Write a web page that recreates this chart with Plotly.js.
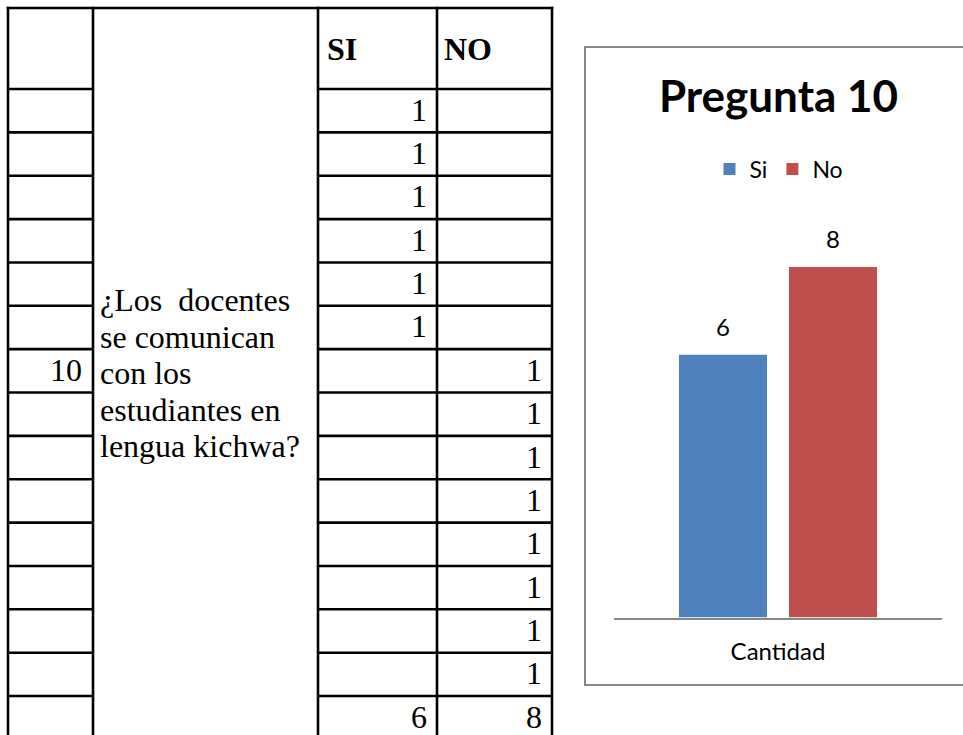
<!DOCTYPE html>
<html>
<head>
<meta charset="utf-8">
<script src="https://cdn.plot.ly/plotly-3.0.1.min.js"></script>
<style>
html,body{margin:0;padding:0;background:#fff;}
#chart{width:963px;height:735px;}
</style>
</head>
<body>
<div id="chart"></div>
<script>
// ---------- data ----------
const questionNumber = '10';
const questionRowIndex = 6;
const questionLines = ['¿Los\u00a0 docentes', 'se comunican', 'con los', 'estudiantes en', 'lengua kichwa?'];
const headerLabels = ['SI', 'NO'];
const siAnswers = [1, 1, 1, 1, 1, 1, null, null, null, null, null, null, null, null];
const noAnswers = [null, null, null, null, null, null, 1, 1, 1, 1, 1, 1, 1, 1];
const siTotal = 6;
const noTotal = 8;

const chartTitle = 'Pregunta 10';
const chartCategories = ['Cantidad'];
const seriesNames = ['Si', 'No'];
const seriesSi = [6];
const seriesNo = [8];

// ---------- geometry (pixels -> paper) ----------
const W = 963, H = 735;
const px = x => x / W;
const py = y => 1 - y / H;

const colX = [8, 93, 318, 437, 552];
const tableTop = 8, headerBottom = 89, rowH = 43.36;
const nRows = siAnswers.length + 1;

const lineStyle = {color: '#000', width: 2.6};
const shapes = [];
colX.forEach(x => shapes.push({type: 'line', xref: 'paper', yref: 'paper',
  x0: px(x), x1: px(x), y0: py(tableTop - 1.3), y1: py(H + 5), line: lineStyle}));
shapes.push({type: 'line', xref: 'paper', yref: 'paper',
  x0: px(colX[0] - 1.3), x1: px(colX[4] + 1.3), y0: py(tableTop), y1: py(tableTop), line: lineStyle});
for (let k = 0; k < nRows; k++) {
  const y = headerBottom + k * rowH;
  shapes.push({type: 'line', xref: 'paper', yref: 'paper',
    x0: px(colX[0]), x1: px(colX[1]), y0: py(y), y1: py(y), line: lineStyle});
  shapes.push({type: 'line', xref: 'paper', yref: 'paper',
    x0: px(colX[2]), x1: px(colX[4]), y0: py(y), y1: py(y), line: lineStyle});
}
shapes.push({type: 'rect', xref: 'paper', yref: 'paper',
  x0: px(585), x1: px(980), y0: py(47), y1: py(685),
  line: {color: '#868686', width: 2}, fillcolor: 'rgba(0,0,0,0)', layer: 'below'});

const serif = 'Liberation Serif, Times New Roman, serif';
const annotations = [];
function cellText(text, x, y, anchor, bold, size) {
  annotations.push({xref: 'paper', yref: 'paper', x: px(x), y: py(y), text: bold ? '<b>' + text + '</b>' : text,
    showarrow: false, xanchor: anchor, yanchor: 'middle',
    font: {family: serif, size: size || 32, color: '#000'}});
}
cellText(headerLabels[0], colX[2] + 7, (tableTop + headerBottom) / 2, 'left', true, 32);
cellText(headerLabels[1], colX[3] + 5, (tableTop + headerBottom) / 2, 'left', true, 32);
const rowMid = i => headerBottom + (i + 0.5) * rowH - 1;
siAnswers.forEach((v, i) => { if (v !== null) cellText(String(v), colX[3] - 8, rowMid(i), 'right'); });
noAnswers.forEach((v, i) => { if (v !== null) cellText(String(v), colX[4] - 8, rowMid(i), 'right'); });
cellText(String(siTotal), colX[3] - 8, rowMid(siAnswers.length), 'right');
cellText(String(noTotal), colX[4] - 8, rowMid(siAnswers.length), 'right');
cellText(questionNumber, colX[1] - 9, rowMid(questionRowIndex), 'right');
const qBase0 = 311, qStep = 36.5;
questionLines.forEach((t, i) => cellText(t, colX[1] + 5, qBase0 + i * qStep - 11, 'left'));

// ---------- chart ----------
const sans = 'Lato, Carlito, Calibri, sans-serif';
const labelFont = {family: sans, size: 24, color: '#000'};
const traces = [
  {type: 'bar', name: seriesNames[0], x: chartCategories, y: seriesSi,
   marker: {color: '#4F81BD'}, hoverinfo: 'none'},
  {type: 'bar', name: seriesNames[1], x: chartCategories, y: seriesNo,
   marker: {color: '#C0504D'}, hoverinfo: 'none'}
];
// data labels, placed on the chart's own axes
const slotPx = 110;
[seriesSi, seriesNo].forEach((vals, s) => {
  vals.forEach((v, i) => annotations.push({xref: 'x', yref: 'y', x: chartCategories[i], y: v,
    text: String(v), showarrow: false, xanchor: 'center', yanchor: 'bottom',
    xshift: (s - 0.5) * slotPx, yshift: 12, font: labelFont}));
});

const layout = {
  width: W, height: H,
  margin: {l: 0, r: 0, t: 0, b: 0, pad: 0},
  paper_bgcolor: '#fff', plot_bgcolor: 'rgba(0,0,0,0)',
  showlegend: true,
  title: {text: '<b>' + chartTitle + '</b>', x: px(778.5), y: py(97), xref: 'paper', yref: 'paper',
    xanchor: 'center', yanchor: 'middle', font: {family: sans, size: 44, color: '#000'}},
  legend: {orientation: 'h', x: px(779), y: py(169), xanchor: 'center', yanchor: 'middle',
    font: {family: sans, size: 23, color: '#000'}, bgcolor: 'rgba(0,0,0,0)'},
  barmode: 'group', bargap: 0.329, bargroupgap: 0.2,
  xaxis: {type: 'category', domain: [px(614), px(942)], range: [-0.5, 0.5],
    showline: true, linecolor: '#868686', linewidth: 2, ticks: '', showgrid: false, zeroline: false,
    tickfont: {family: sans, size: 24, color: '#000'}, ticklabelstandoff: 12, fixedrange: true},
  yaxis: {domain: [py(617.5), py(179.5)], range: [0, 10], visible: false, fixedrange: true},
  shapes: shapes,
  annotations: annotations,
  font: {family: sans}
};

Plotly.newPlot('chart', traces, layout, {staticPlot: true, displayModeBar: false});
</script>
</body>
</html>
